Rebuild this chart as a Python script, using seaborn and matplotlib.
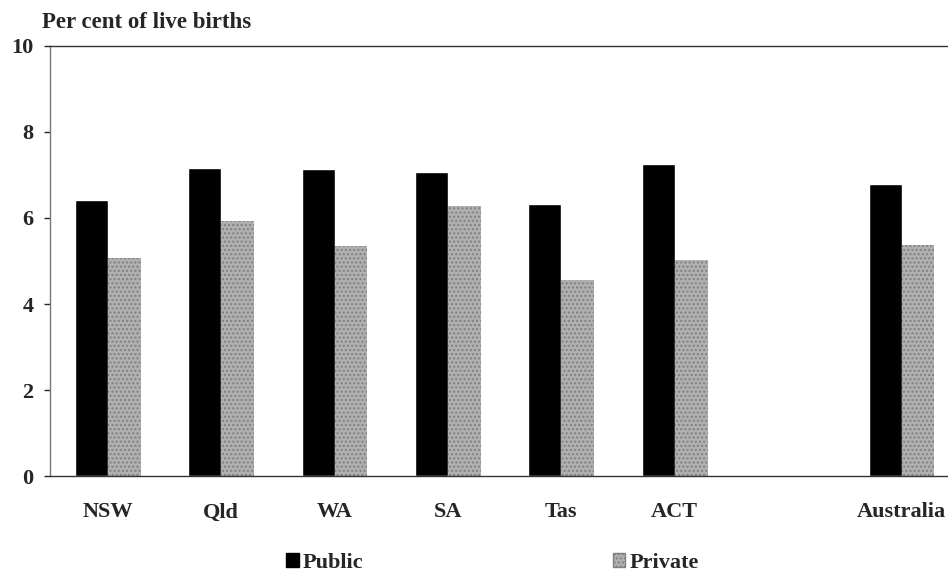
import numpy as np
import pandas as pd
import seaborn as sns
import matplotlib.pyplot as plt
from matplotlib.patches import Patch

# values (per cent of live births)
states = ["NSW", "Qld", "WA", "SA", "Tas", "ACT", "Australia"]
public = [6.42, 7.17, 7.13, 7.07, 6.32, 7.26, 6.78]
private = [5.08, 5.92, 5.36, 6.27, 4.56, 5.02, 5.37]
order = ["NSW", "Qld", "WA", "SA", "Tas", "ACT", " ", "Australia"]
yticks = [0, 2, 4, 6, 8, 10]

df = pd.DataFrame({
    "state": states * 2,
    "sector": ["Public"] * len(states) + ["Private"] * len(states),
    "value": public + private,
})

sns.set_style("white")
plt.rcParams["font.family"] = ["Liberation Serif", "DejaVu Serif"]
plt.rcParams["font.weight"] = "bold"

fig = plt.figure(figsize=(9.48, 5.74), dpi=100)
ax = fig.add_axes([0.0527, 0.1707, 0.9473, 0.7492])

pal = {"Public": "black", "Private": "#b0b0b0"}
sns.barplot(data=df, x="state", y="value", hue="sector", order=order,
            hue_order=["Public", "Private"], palette=pal, width=0.58,
            saturation=1, ax=ax, legend=False)

# stippled texture for private bars
for bar in ax.containers[1]:
    bar.set_hatch("....")
    bar.set_edgecolor("#808080")
    bar.set_linewidth(0)

ax.set_xlim(-0.51, 7.41)
ax.set_ylim(0, 10)
ax.set_yticks(yticks)
ax.set_xlabel("")
ax.set_ylabel("")

for side in ["top", "left", "bottom"]:
    ax.spines[side].set_visible(True)
    ax.spines[side].set_linewidth(1)
ax.spines["right"].set_visible(False)
ax.spines["left"].set_color("#777777")
ax.spines["left"].set_linestyle((0, (2, 1)))
ax.spines["bottom"].set_color("#333333")
ax.spines["top"].set_color("#333333")

ax.tick_params(axis="y", left=True, length=4, width=1, pad=8, labelsize=16)
ax.tick_params(axis="x", bottom=False, length=0, pad=19, labelsize=16)
for lab in ax.get_xticklabels() + ax.get_yticklabels():
    lab.set_fontweight("bold")

fig.text(0.044, 1 - 22 / 574, "Per cent of live births", fontsize=16.5,
         fontweight="bold", va="center", ha="left")

handles = [Patch(facecolor="black", edgecolor="black"),
           Patch(facecolor="#b0b0b0", edgecolor="#808080", hatch="....")]
fig.legend(handles, ["Public", "Private"], loc="center",
           bbox_to_anchor=(0.5195, 1 - 563 / 574), ncol=2, frameon=False,
           columnspacing=11.2, handlelength=0.55, handleheight=0.6,
           handletextpad=0.2, prop={"weight": "bold", "size": 16})

fig.savefig("out.png", dpi=100)
